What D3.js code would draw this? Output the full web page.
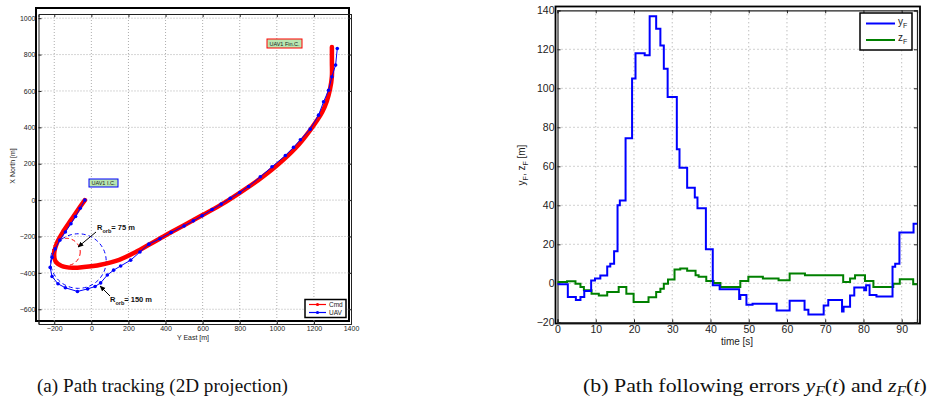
<!DOCTYPE html>
<html><head><meta charset="utf-8">
<script src="https://cdn.jsdelivr.net/npm/d3@7"></script>
<style>
body{margin:0;background:#fff;}
svg{display:block;font-family:"Liberation Sans",Arial,sans-serif;}
</style></head>
<body><svg id="c" width="930" height="404"></svg>
<script>
// ---------- data: panel (a) path tracking ----------
const cmdPath = [[-35,0],[-70,-50],[-110,-110],[-150,-170],[-183,-230],[-200,-290],[-194,-335],[-160,-362],[-100,-372],[-40,-368],[50,-355],[150,-328],[235,-288],[320,-240],[410,-188],[500,-138],[600,-82],[700,-25],[800,40],[900,110],[1000,190],[1100,285],[1180,385],[1245,485],[1270,545],[1287,610],[1297,680],[1297,760],[1297,842]];
const uavPath = [[-35,0],[-60,-45],[-85,-90],[-110,-130],[-140,-175],[-170,-220],[-195,-268],[-212,-315],[-222,-370],[-212,-420],[-180,-460],[-140,-482],[-75,-502],[-20,-488],[20,-475],[50,-455],[86,-412],[120,-385],[158,-362],[212,-330],[262,-285],[310,-242],[370,-212],[430,-178],[500,-142],[550,-114],[597,-86],[651,-52],[700,-22],[749,10],[800,42],[848,75],[911,128],[974,183],[1046,245],[1090,290],[1127,332],[1180,390],[1225,467],[1252,540],[1279,604],[1297,678],[1317,742],[1326,833]];
const orbitCenters = [[-135,-285],[-70,-335]];
const orbitRadii = [75,150];
const xTicksA = [-200,0,200,400,600,800,1000,1200,1400];
const yTicksA = [-600,-400,-200,0,200,400,600,800,1000];

// ---------- data: panel (b) path following errors ----------
const tYF = [0,2.7,4.8,6.0,7.0,8.8,9.8,11.2,13.0,13.8,14.8,15.7,16.3,17.8,19.5,20.4,22.8,24.1,25.8,26.9,27.8,28.8,31.2,31.9,33.9,35.9,36.6,38.8,40.6,42.4,47.5,47.8,49.4,51.0,57.3,60.7,64.6,65.6,69.6,70.8,74.4,74.8,76.5,77.6,80.2,80.7,81.6,83.4,87.6,88.3,89.4,93.1,94];
const vYF = [-0.5,-7,-8.5,-7,-4,1.5,2.5,4,8.6,10,16.5,40,42.5,74.4,105,118,117,137,130.5,122,110,95.5,68.7,59.3,49,44,38.5,17.5,-1,-3,-8,-6,-11,-10.5,-14,-9,-13.6,-16,-11.4,-8.6,-14.5,-12,-6.3,-2.2,-3.5,-1,-6,-6.8,8.5,10,26,30.6,30.6];
const tZF = [0,2.5,4.7,6.0,6.9,8.9,10.8,13.0,16.0,18.0,19.9,23.8,25.8,26.9,27.8,28.9,30.6,32.1,33.9,36.1,36.9,38.9,40.8,42.6,47.8,49.9,53.7,57.8,60.7,64.7,74.7,76.5,77.8,80.4,82.6,87.8,89.5,93.0,94];
const vZF = [0.7,1.0,-0.2,-1.9,-3.6,-5.3,-6.2,-4.5,-1.9,-5.3,-9.6,-7.1,-4.5,-2.8,-0.2,1.9,7.1,7.6,6.4,4.1,3.3,1.2,0.2,-1.9,1.2,3.3,2.4,1.6,5.0,4.1,0.7,2.4,4.1,1.2,-1.9,-0.2,2.1,-0.5,-0.5];
const xTicksB = [0,10,20,30,40,50,60,70,80,90];
const yTicksB = [-20,0,20,40,60,80,100,120,140];

const svg = d3.select("#c");
const fmt = d => (d<0 ? "\u2212"+Math.abs(d) : ""+d);

// ================= Panel (a) =================
const A = {l:38.5, r:351, t:14, b:324};
const xA = d3.scaleLinear().domain([-285,1400]).range([A.l,A.r]);
const yA = d3.scaleLinear().domain([-681,1023]).range([A.b,A.t]);
const gA = svg.append("g");
gA.append("rect").attr("x",36).attr("y",8).attr("width",313).attr("height",313)
  .attr("fill","none").attr("stroke","#000").attr("stroke-width",2);
gA.selectAll(".gx").data(xTicksA.filter(d=>d<1400)).join("line")
  .attr("x1",d=>xA(d)).attr("x2",d=>xA(d)).attr("y1",A.t).attr("y2",A.b)
  .attr("stroke","#999").attr("stroke-width",0.8).attr("stroke-dasharray","1,2");
gA.selectAll(".gy").data(yTicksA).join("line")
  .attr("y1",d=>yA(d)).attr("y2",d=>yA(d)).attr("x1",A.l).attr("x2",A.r)
  .attr("stroke","#999").attr("stroke-width",0.8).attr("stroke-dasharray","1,2");
const axA_b = d3.axisBottom(xA).tickValues(xTicksA).tickSize(-3).tickPadding(2).tickFormat(fmt);
const axA_l = d3.axisLeft(yA).tickValues(yTicksA).tickSize(-3).tickPadding(3).tickFormat(fmt);
const axA_t = d3.axisTop(xA).tickValues(xTicksA).tickSize(-3).tickFormat("");
const axA_r = d3.axisRight(yA).tickValues(yTicksA).tickSize(-3).tickFormat("");
[[axA_b,`translate(0,${A.b})`],[axA_l,`translate(${A.l},0)`],[axA_t,`translate(0,${A.t})`],[axA_r,`translate(${A.r},0)`]].forEach(([ax,tr])=>{
  const g = gA.append("g").attr("transform",tr).call(ax);
  g.select(".domain").attr("stroke","#222").attr("stroke-width",1);
  g.selectAll(".tick line").attr("stroke","#222");
  g.selectAll("text").attr("font-size",7).attr("fill","#222").attr("font-family","Liberation Sans, Arial");
});
gA.append("text").attr("x",193).attr("y",340).attr("text-anchor","middle").attr("font-size",7).attr("fill","#222").text("Y East [m]");
gA.append("text").attr("transform","translate(15,166) rotate(-90)").attr("text-anchor","middle").attr("font-size",7).attr("fill","#222").text("X North [m]");

const kx = (xA(100)-xA(0))/100, ky = (yA(0)-yA(100))/100;
gA.append("ellipse").attr("cx",xA(orbitCenters[0][0])).attr("cy",yA(orbitCenters[0][1]))
  .attr("rx",orbitRadii[0]*kx).attr("ry",orbitRadii[0]*ky)
  .attr("fill","none").attr("stroke","#f00").attr("stroke-width",1).attr("stroke-dasharray","4,3");
gA.append("ellipse").attr("cx",xA(orbitCenters[1][0])).attr("cy",yA(orbitCenters[1][1]))
  .attr("rx",orbitRadii[1]*kx).attr("ry",orbitRadii[1]*ky)
  .attr("fill","none").attr("stroke","#00f").attr("stroke-width",1).attr("stroke-dasharray","4,3");

const lineA = d3.line().x(d=>xA(d[0])).y(d=>yA(d[1])).curve(d3.curveCatmullRom);
gA.append("path").attr("d",lineA(cmdPath)).attr("fill","none").attr("stroke","#f00")
  .attr("stroke-width",4.5).attr("stroke-linecap","round").attr("stroke-linejoin","round");
gA.append("path").attr("d",d3.line().x(d=>xA(d[0])).y(d=>yA(d[1]))(uavPath)).attr("fill","none").attr("stroke","#00f").attr("stroke-width",1);
gA.selectAll(".um").data(uavPath).join("circle").attr("cx",d=>xA(d[0])).attr("cy",d=>yA(d[1]))
  .attr("r",1.8).attr("fill","#00f");

const defs = svg.append("defs");
defs.append("marker").attr("id","ah").attr("viewBox","0 0 10 10").attr("refX",9).attr("refY",5)
  .attr("markerWidth",6).attr("markerHeight",6).attr("orient","auto")
  .append("path").attr("d","M0,1 L10,5 L0,9 Z").attr("fill","#000");
gA.append("line").attr("x1",96).attr("y1",232).attr("x2",78).attr("y2",247).attr("stroke","#000").attr("stroke-width",1).attr("marker-end","url(#ah)");
gA.append("line").attr("x1",110).attr("y1",296).attr("x2",100).attr("y2",286).attr("stroke","#000").attr("stroke-width",1).attr("marker-end","url(#ah)");
const t1 = gA.append("text").attr("x",97).attr("y",230).attr("font-size",7.5).attr("font-weight","bold").attr("fill","#111");
t1.append("tspan").text("R");
t1.append("tspan").attr("font-size",5.5).attr("dy",2.5).text("orb");
t1.append("tspan").attr("dy",-2.5).text("= 75 m");
const t2 = gA.append("text").attr("x",110).attr("y",302).attr("font-size",7.5).attr("font-weight","bold").attr("fill","#111");
t2.append("tspan").text("R");
t2.append("tspan").attr("font-size",5.5).attr("dy",2.5).text("orb");
t2.append("tspan").attr("dy",-2.5).text("= 150 m");

function tag(x,y,w,h,stroke,txt){
  gA.append("rect").attr("x",x).attr("y",y).attr("width",w).attr("height",h)
    .attr("fill","#b8e6b0").attr("stroke",stroke).attr("stroke-width",1);
  gA.append("text").attr("x",x+w/2).attr("y",y+h/2+2).attr("text-anchor","middle").attr("font-size",5.5).attr("fill","#222").text(txt);
}
tag(89,179,29,8,"#00f","UAV1 I.C.");
tag(267,39,35,9,"#f00","UAV1 Fin.C.");

gA.append("rect").attr("x",305).attr("y",299.5).attr("width",41).attr("height",18).attr("fill","#fff").attr("stroke","#000").attr("stroke-width",1.5);
gA.append("line").attr("x1",309).attr("x2",326).attr("y1",304.5).attr("y2",304.5).attr("stroke","#f00").attr("stroke-width",1.2);
gA.append("circle").attr("cx",317.5).attr("cy",304.5).attr("r",1.6).attr("fill","#f00");
gA.append("text").attr("x",329).attr("y",306.8).attr("font-size",6.5).attr("fill","#222").text("Cmd");
gA.append("line").attr("x1",309).attr("x2",326).attr("y1",312.5).attr("y2",312.5).attr("stroke","#00f").attr("stroke-width",1.2);
gA.append("circle").attr("cx",317.5).attr("cy",312.5).attr("r",1.6).attr("fill","#00f");
gA.append("text").attr("x",329).attr("y",314.8).attr("font-size",6.5).attr("fill","#222").text("UAV");

// ================= Panel (b) =================
const B = {l:557.5, r:917, t:10.3, b:322.3};
const xB = d3.scaleLinear().domain([0,94]).range([B.l,B.r]);
const yB = d3.scaleLinear().domain([-20,140]).range([B.b,B.t]);
const gB = svg.append("g");
gB.append("rect").attr("x",555.5).attr("y",6.5).attr("width",364.5).attr("height",317)
  .attr("fill","none").attr("stroke","#000").attr("stroke-width",1.8);
gB.selectAll(".gx").data(xTicksB.filter(d=>d>0)).join("line")
  .attr("x1",d=>xB(d)).attr("x2",d=>xB(d)).attr("y1",B.t).attr("y2",B.b)
  .attr("stroke","#999").attr("stroke-width",0.9).attr("stroke-dasharray","1,3");
gB.selectAll(".gy").data(yTicksB.filter(d=>d>-20&&d<140)).join("line")
  .attr("y1",d=>yB(d)).attr("y2",d=>yB(d)).attr("x1",B.l).attr("x2",B.r)
  .attr("stroke","#999").attr("stroke-width",0.9).attr("stroke-dasharray","1,3");
const axB_b = d3.axisBottom(xB).tickValues(xTicksB).tickSize(-3).tickPadding(3).tickFormat(fmt);
const axB_l = d3.axisLeft(yB).tickValues(yTicksB).tickSize(-3).tickPadding(3).tickFormat(fmt);
const axB_t = d3.axisTop(xB).tickValues(xTicksB).tickSize(-3).tickFormat("");
const axB_r = d3.axisRight(yB).tickValues(yTicksB).tickSize(-3).tickFormat("");
[[axB_b,`translate(0,${B.b})`],[axB_l,`translate(${B.l},0)`],[axB_t,`translate(0,${B.t})`],[axB_r,`translate(${B.r},0)`]].forEach(([ax,tr])=>{
  const g = gB.append("g").attr("transform",tr).call(ax);
  g.select(".domain").attr("stroke","#222").attr("stroke-width",1.2);
  g.selectAll(".tick line").attr("stroke","#222");
  g.selectAll("text").attr("font-size",10.5).attr("fill","#222").attr("font-family","Liberation Sans, Arial");
});
gB.append("text").attr("x",737).attr("y",345).attr("text-anchor","middle").attr("font-size",10).attr("fill","#222").text("time [s]");
const yl = gB.append("text").attr("transform","translate(525,165) rotate(-90)").attr("text-anchor","middle").attr("font-size",10).attr("fill","#222");
yl.append("tspan").text("y");
yl.append("tspan").attr("font-size",7).attr("dy",3).text("F");
yl.append("tspan").attr("dy",-3).text(", z");
yl.append("tspan").attr("font-size",7).attr("dy",3).text("F");
yl.append("tspan").attr("dy",-3).text("  [m]");

const stepLine = d3.line().x(d=>xB(d[0])).y(d=>yB(d[1])).curve(d3.curveStepAfter);
gB.append("path").attr("d",stepLine(tZF.map((t,i)=>[t,vZF[i]]))).attr("fill","none").attr("stroke","#008000").attr("stroke-width",2);
gB.append("path").attr("d",stepLine(tYF.map((t,i)=>[t,vYF[i]]))).attr("fill","none").attr("stroke","#0000ff").attr("stroke-width",2);

gB.append("rect").attr("x",860).attr("y",13).attr("width",52).attr("height",37).attr("fill","#fff").attr("stroke","#000").attr("stroke-width",1.5);
gB.append("line").attr("x1",866).attr("x2",895).attr("y1",23.5).attr("y2",23.5).attr("stroke","#00f").attr("stroke-width",2);
gB.append("line").attr("x1",866).attr("x2",895).attr("y1",40).attr("y2",40).attr("stroke","#008000").attr("stroke-width",2);
const l1 = gB.append("text").attr("x",898).attr("y",25).attr("font-size",10).attr("fill","#222");
l1.append("tspan").text("y"); l1.append("tspan").attr("font-size",7).attr("dy",3).text("F");
const l2 = gB.append("text").attr("x",898).attr("y",41).attr("font-size",10).attr("fill","#222");
l2.append("tspan").text("z"); l2.append("tspan").attr("font-size",7).attr("dy",3).text("F");

// ================= captions =================
function fitCaption(x0, x1, build){
  const g = svg.append("g");
  const t = g.append("text").attr("x",0).attr("y",0)
    .attr("font-family","Liberation Serif, Times New Roman, serif").attr("font-size",19.5).attr("fill","#111");
  build(t);
  const w = t.node().getComputedTextLength();
  g.attr("transform",`translate(${x0},392) scale(${(x1-x0)/w},1)`);
}
fitCaption(37,288,t=>t.text("(a) Path tracking (2D projection)"));
fitCaption(583,927,cap=>{
  cap.append("tspan").text("(b) Path following errors ");
  cap.append("tspan").attr("font-style","italic").text("y");
  cap.append("tspan").attr("font-style","italic").attr("font-size",14).attr("dy",4).text("F");
  cap.append("tspan").attr("dy",-4).text("(");
  cap.append("tspan").attr("font-style","italic").text("t");
  cap.append("tspan").text(") and ");
  cap.append("tspan").attr("font-style","italic").text("z");
  cap.append("tspan").attr("font-style","italic").attr("font-size",14).attr("dy",4).text("F");
  cap.append("tspan").attr("dy",-4).text("(");
  cap.append("tspan").attr("font-style","italic").text("t");
  cap.append("tspan").text(")");
});
</script></body></html>
